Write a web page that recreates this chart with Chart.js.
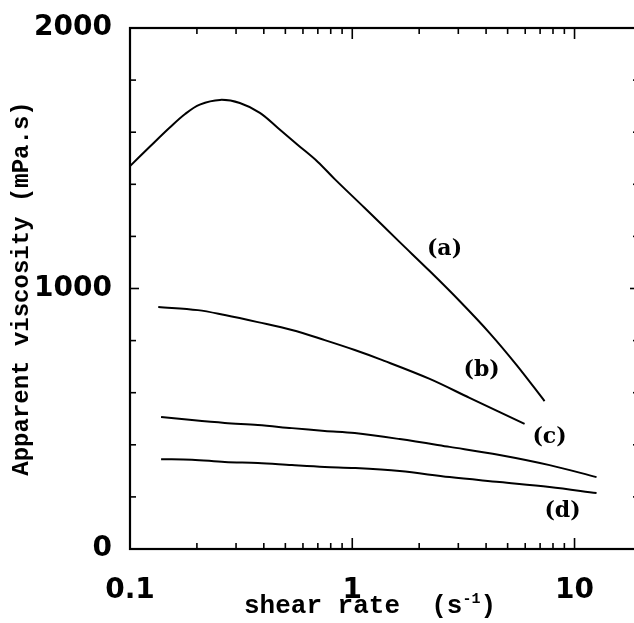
<!DOCTYPE html>
<html><head><meta charset="utf-8">
<script src="https://cdn.jsdelivr.net/npm/chart.js@4.4.1/dist/chart.umd.min.js"></script>
<style>
html,body{margin:0;padding:0;overflow:hidden;background:#fff;width:634px;height:623px}
#wrap{position:relative;width:645px;height:623px}
</style></head><body><div id="wrap"><canvas id="c" width="645" height="623"></canvas></div>
<script>
// ---- data ----
const xTickValues = [0.1, 1, 10];
const yTickValues = [0, 1000, 2000];
const yMinorStep = 200;
const yMajorStep = 1000;

const curveA_x = [0.100,0.123,0.151,0.177,0.206,0.254,0.312,0.384,0.463,0.569,0.700,0.834,1.138,1.635,2.23,3.04,4.15,5.49,7.33];
const curveA_y = [1470,1545,1618,1670,1706,1724,1712,1674,1616,1551,1486,1420,1309,1178,1067,952,829,706,568];

const curveB_x = [0.134,0.202,0.267,0.376,0.535,0.752,1.026,1.329,2.23,3.37,5.96];
const curveB_y = [929,917,898,871,841,802,764,729,653,580,480];

const curveC_x = [0.138,0.190,0.267,0.376,0.535,0.752,1.026,1.635,2.743,4.60,7.72,12.56];
const curveC_y = [507,495,484,476,464,453,445,422,392,361,322,276];

const curveD_x = [0.138,0.190,0.267,0.376,0.535,0.752,1.026,1.635,2.743,4.60,7.72,12.56];
const curveD_y = [345,343,334,330,322,315,311,299,276,257,238,215];

const curveLabels = ['(a)','(b)','(c)','(d)'];
const curveLabelX = [2.60, 3.82, 7.72, 8.83];
const curveLabelY = [1152, 687, 430, 146];

const yTitle = 'Apparent viscosity (mPa.s)';
const xTitleMain = 'shear rate  (s';
const xTitleSup = '-1';
const xTitleEnd = ')';

// ---- build ----
const pts = (xs, ys) => xs.map((v, i) => ({x: v, y: ys[i]}));
const ds = (xs, ys) => ({
  data: pts(xs, ys), borderColor: '#000', borderWidth: 2, pointRadius: 0,
  fill: false, tension: 0.35
});

const tickFont = {family: 'DejaVu Sans', size: 28, weight: 'bold'};

const deco = {
  id: 'deco',
  afterDatasetsDraw(chart) {
    const {ctx, chartArea: a, scales: {x, y}} = chart;
    ctx.save();
    ctx.strokeStyle = '#000';
    ctx.lineWidth = 2.2;
    ctx.strokeRect(a.left, a.top, a.right - a.left, a.bottom - a.top);
    const line = (x1, y1, x2, y2) => { ctx.beginPath(); ctx.moveTo(x1, y1); ctx.lineTo(x2, y2); ctx.stroke(); };
    ctx.lineWidth = 1.6;
    for (let d = -1; d <= 1; d++) {
      for (let m = 1; m <= 9; m++) {
        const v = m * Math.pow(10, d);
        if (v < x.min - 1e-9 || v > x.max) continue;
        const px = x.getPixelForValue(v);
        const L = m === 1 ? 11 : 6;
        line(px, a.bottom, px, a.bottom - L);
        line(px, a.top, px, a.top + L);
      }
    }
    for (let v = y.min; v <= y.max; v += yMinorStep) {
      const py = y.getPixelForValue(v);
      const L = v % yMajorStep === 0 ? 9 : 6;
      line(a.left, py, a.left + L, py);
      line(a.right, py, a.right - L, py);
    }
    // curve labels
    ctx.fillStyle = '#000';
    ctx.font = 'bold 22px "DejaVu Serif"';
    ctx.textAlign = 'center';
    ctx.textBaseline = 'middle';
    curveLabels.forEach((t, i) => {
      ctx.fillText(t, x.getPixelForValue(curveLabelX[i]), y.getPixelForValue(curveLabelY[i]));
    });
    // y title
    ctx.save();
    ctx.translate(22, (a.top + a.bottom) / 2);
    ctx.rotate(-Math.PI / 2);
    ctx.font = 'bold 24px "Liberation Mono"';
    ctx.textAlign = 'center';
    ctx.textBaseline = 'middle';
    ctx.fillText(yTitle, 0, 0);
    ctx.restore();
    // x title
    ctx.textAlign = 'left';
    ctx.textBaseline = 'alphabetic';
    ctx.font = 'bold 26px "Liberation Mono"';
    let tx = 244; const ty = 613;
    ctx.fillText(xTitleMain, tx, ty);
    tx += ctx.measureText(xTitleMain).width;
    ctx.font = 'bold 15px "Liberation Mono"';
    ctx.fillText(xTitleSup, tx, ty - 10);
    tx += ctx.measureText(xTitleSup).width;
    ctx.font = 'bold 26px "Liberation Mono"';
    ctx.fillText(xTitleEnd, tx, ty);
    ctx.restore();
  }
};

new Chart(document.getElementById('c'), {
  type: 'line',
  data: { datasets: [ds(curveA_x, curveA_y), ds(curveB_x, curveB_y), ds(curveC_x, curveC_y), ds(curveD_x, curveD_y)] },
  options: {
    responsive: false, animation: false, devicePixelRatio: 1,
    layout: { padding: { left: 0, top: 28, right: 6, bottom: 0 } },
    plugins: { legend: { display: false }, tooltip: { enabled: false } },
    scales: {
      x: {
        type: 'logarithmic', min: 0.1, max: 19.5,
        grid: { display: false }, border: { display: false },
        afterBuildTicks: s => { s.ticks = xTickValues.map(v => ({value: v})); },
        afterFit: s => { s.height = 74; },
        ticks: { font: tickFont, color: '#000', padding: 17, maxRotation: 0, autoSkip: false,
                 callback: v => String(v) }
      },
      y: {
        type: 'linear', min: 0, max: 2000,
        grid: { display: false }, border: { display: false },
        afterBuildTicks: s => { s.ticks = yTickValues.map(v => ({value: v})); },
        afterFit: s => { s.width = 130; },
        ticks: { font: tickFont, color: '#000', padding: 10, callback: v => String(v) }
      }
    }
  },
  plugins: [deco]
});
</script></body></html>
